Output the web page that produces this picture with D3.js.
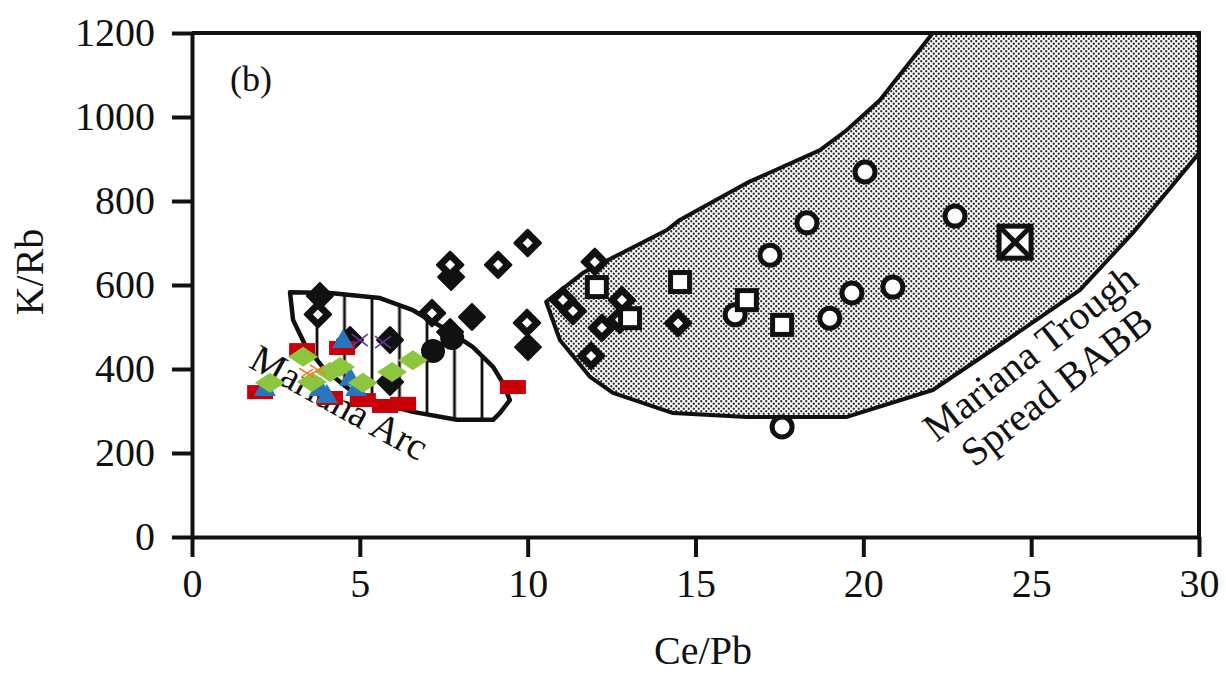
<!DOCTYPE html>
<html><head><meta charset="utf-8">
<script src="https://cdn.jsdelivr.net/npm/d3@7"></script>
<style>body{margin:0;background:#fff}svg{display:block}</style>
</head><body>
<svg id="c" width="1226" height="675"></svg>
<script>
// ---- data ----
const xTicks = [0, 5, 10, 15, 20, 25, 30];
const yTicks = [0, 200, 400, 600, 800, 1000, 1200];
const xTitle = "Ce/Pb", yTitle = "K/Rb", panelLabel = "(b)";
const arcLabel = "Mariana Arc";
const troughLabel = ["Mariana Trough", "Spread BABB"];

// Mariana Trough spreading BABB field (Ce/Pb, K/Rb)
const troughField = [[22.07,1200],[20.49,1040],[19.51,969],[18.71,921],[16.53,843],[14.53,755],[14.15,731],[11.65,629],[10.55,560],[10.96,469],[11.86,381],[12.54,343],[14.33,295],[16.53,286],[19.51,286],[22.07,350],[24.28,469],[26.45,588],[28.03,724],[28.84,802],[30,914],[30,1200]];
// Mariana Arc field
const arcField = [[2.92,583],[4.11,581],[5.60,569],[6.58,540],[7.60,493],[8.37,452],[8.97,405],[9.26,367],[9.47,326],[9.17,295],[8.97,279],[7.89,279],[6.58,298],[5.60,319],[4.71,350],[3.96,398],[3.37,457],[3.01,517]];

const filledDiamonds = [[3.81,574],[7.72,619],[8.34,524],[7.69,488],[10.01,452],[5.90,469],[5.90,369],[4.71,469]];
const filledCircles = [[7.18,443],[7.75,474]];
const openDiamonds = [[3.75,530],[7.15,533],[7.69,648],[9.12,648],[10.0,700],[9.98,510],[12.0,655],[11.05,564],[11.35,538],[12.81,564],[12.75,517],[12.21,498],[11.89,431],[14.48,509]];
const openCircles = [[20.05,869],[18.32,748],[17.22,671],[16.18,529],[19.66,581],[20.88,595],[19.0,521],[22.73,764],[17.58,262]];
const openSquares = [[12.06,595],[14.54,607],[13.05,521],[16.53,564],[17.58,505]];
const crossedSquares = [[24.52,702]];
const redRects = [[3.28,445],[4.47,450],[2.03,345],[4.11,331],[5.09,326],[5.75,312],[6.29,317],[9.56,357]];
const blueTriangles = [[4.5,469],[2.17,355],[4.02,338],[4.71,379],[4.89,355],[3.81,355]];
const greenDiamonds = [[3.31,429],[4.41,405],[2.32,367],[3.57,369],[5.09,367],[5.96,393],[6.58,421],[4.11,393]];
const purpleCrosses = [[5.0,469],[5.69,464]];
const orangeStars = [[3.43,390],[3.75,398]];

// ---- chart ----
const svg = d3.select("#c");
const x = d3.scaleLinear().domain([0,30]).range([192,1199]);
const y = d3.scaleLinear().domain([0,1200]).range([537,33]);
const ink = "#111";
const serif = "'Liberation Serif','Times New Roman',serif";

const defs = svg.append("defs");
const stip = defs.append("pattern").attr("id","stip").attr("patternUnits","userSpaceOnUse").attr("width",5).attr("height",5);
stip.append("rect").attr("width",5).attr("height",5).attr("fill","#fff");
stip.append("circle").attr("cx",1.25).attr("cy",1.25).attr("r",1.15).attr("fill","#2a2a2a");
stip.append("circle").attr("cx",3.75).attr("cy",3.75).attr("r",1.15).attr("fill","#2a2a2a");
const hat = defs.append("pattern").attr("id","hat").attr("patternUnits","userSpaceOnUse").attr("width",27.5).attr("height",10).attr("x",317-13.75);
hat.append("rect").attr("width",27.5).attr("height",10).attr("fill","#fff");
hat.append("line").attr("x1",13.75).attr("x2",13.75).attr("y1",-1).attr("y2",11).attr("stroke",ink).attr("stroke-width",2.8);

const line = d3.line().x(d=>x(d[0])).y(d=>y(d[1])).curve(d3.curveLinearClosed);
svg.append("path").attr("d",line(troughField)).attr("fill","url(#stip)").attr("stroke",ink).attr("stroke-width",4).attr("stroke-linejoin","round");
svg.append("path").attr("d",line(arcField)).attr("fill","url(#hat)").attr("stroke",ink).attr("stroke-width",4.5).attr("stroke-linejoin","round");

// axes
const gx = svg.append("g").attr("transform",`translate(0,${y(0)})`)
  .call(d3.axisBottom(x).tickValues(xTicks).tickFormat(d3.format("d")).tickSize(20).tickSizeOuter(0).tickPadding(12));
const gy = svg.append("g").attr("transform",`translate(${x(0)},0)`)
  .call(d3.axisLeft(y).tickValues(yTicks).tickFormat(d3.format("d")).tickSize(20).tickSizeOuter(0).tickPadding(17));
[gx,gy].forEach(g=>{
  g.selectAll("path,line").attr("stroke",ink).attr("stroke-width",4);
  g.selectAll("text").attr("fill",ink).style("font-family",serif).style("font-size","40px");
});
// top & right frame
svg.append("path").attr("d",`M${x(0)},${y(1200)}H${x(30)}V${y(0)}`).attr("fill","none").attr("stroke",ink).attr("stroke-width",4);

// titles
svg.append("text").attr("x",703).attr("y",664).attr("text-anchor","middle").attr("fill",ink)
  .style("font-family",serif).style("font-size","40px").text(xTitle);
svg.append("text").attr("transform","translate(43,272) rotate(-90)").attr("text-anchor","middle").attr("fill",ink)
  .style("font-family",serif).style("font-size","40px").text(yTitle);
svg.append("text").attr("x",251).attr("y",91).attr("text-anchor","middle").attr("fill",ink)
  .style("font-family",serif).style("font-size","36px").text(panelLabel);
svg.append("text").attr("transform","translate(333,414) rotate(29)").attr("text-anchor","middle").attr("fill",ink)
  .style("font-family",serif).style("font-size","39px").text(arcLabel);
const tl = svg.append("text").attr("transform","translate(1042,368) rotate(-38)").attr("text-anchor","middle").attr("fill",ink)
  .style("font-family",serif).style("font-size","40px");
tl.selectAll("tspan").data(troughLabel).join("tspan").attr("x",0).attr("dy",(d,i)=>i?"1.08em":"-0.15em").text(d=>d);

// markers
const pos = d => `translate(${x(d[0])},${y(d[1])})`;
const dia = (a,b) => `M0,${-b}L${a},0L0,${b}L${-a},0Z`;
const layer = (data, fn) => svg.append("g").selectAll("g").data(data).join("g").attr("transform",pos).each(function(d){fn(d3.select(this));});

layer(filledDiamonds, g=>g.append("path").attr("d",dia(13,13)).attr("fill",ink).attr("stroke",ink).attr("stroke-width",2).attr("stroke-linejoin","round"));
layer(filledCircles, g=>g.append("circle").attr("r",12).attr("fill",ink));
layer(openDiamonds, g=>{g.append("path").attr("d",dia(13,13)).attr("fill",ink).attr("stroke",ink).attr("stroke-width",2.5).attr("stroke-linejoin","round");g.append("path").attr("d",dia(5,5)).attr("fill","#fff");});
layer(openCircles, g=>g.append("circle").attr("r",10).attr("fill","#fff").attr("stroke",ink).attr("stroke-width",5));
layer(openSquares, g=>g.append("rect").attr("x",-9.5).attr("y",-9.5).attr("width",19).attr("height",19).attr("fill","#fff").attr("stroke",ink).attr("stroke-width",5));
layer(crossedSquares, g=>{g.append("rect").attr("x",-16).attr("y",-16).attr("width",32).attr("height",32).attr("fill","#fff").attr("stroke",ink).attr("stroke-width",5);
  g.append("path").attr("d","M-16,-16L16,16M16,-16L-16,16").attr("stroke",ink).attr("stroke-width",5);});
layer(redRects, g=>g.append("rect").attr("x",-13).attr("y",-7).attr("width",26).attr("height",14).attr("fill","#c8000a"));
layer(blueTriangles, g=>g.append("path").attr("d","M0,-11L11,8L-11,8Z").attr("fill","#2a76be"));
layer(greenDiamonds, g=>g.append("path").attr("d",dia(15,10)).attr("fill","#8cc63f"));
layer(purpleCrosses, g=>g.append("path").attr("d","M-8,-6L8,6M8,-6L-8,6").attr("stroke","#7030a0").attr("stroke-width",1.6));
layer(orangeStars, g=>g.append("path").attr("d","M-8,-5L8,5M-6,4L6,-4").attr("stroke","#ed7d31").attr("stroke-width",1.6));
</script>
</body></html>
